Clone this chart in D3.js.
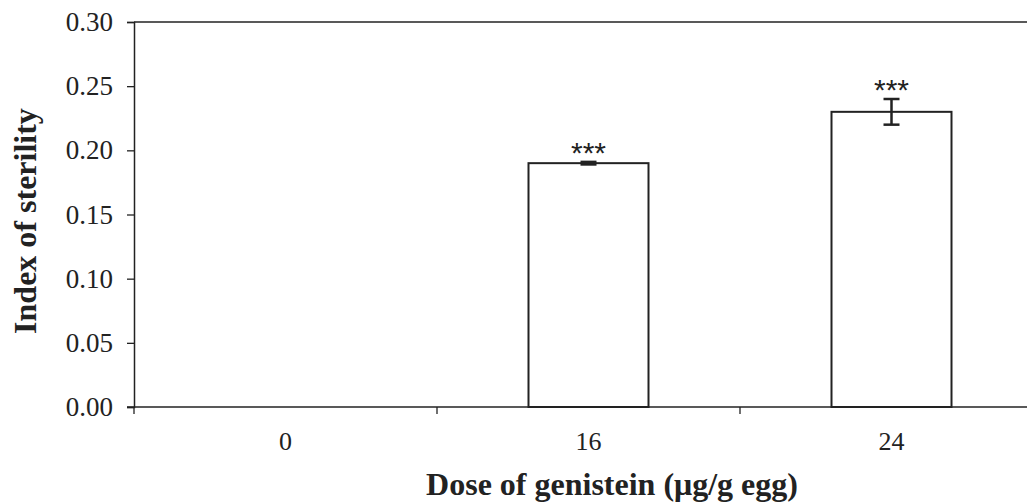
<!DOCTYPE html>
<html>
<head>
<meta charset="utf-8">
<script src="https://cdn.jsdelivr.net/npm/d3@7"></script>
<style>
  body { margin: 0; background: #fff; }
  svg text { font-family: "Liberation Serif", "Times New Roman", serif; fill: #222; }
</style>
</head>
<body>
<script>
// chart values
var doses = ["0", "16", "24"];
var sterility = [0, 0.19, 0.23];
var errors = [0, 0.001, 0.01];
var stars = ["", "***", "***"];
var yTicks = [0, 0.05, 0.10, 0.15, 0.20, 0.25, 0.30];

var width = 1027, height = 504;
var plotLeft = 134, plotTop = 22, plotBottom = 407;
var bandW = 303;

var svg = d3.select("body").append("svg")
    .attr("width", width)
    .attr("height", height);

var x = d3.scaleBand()
    .domain(doses)
    .range([plotLeft, plotLeft + bandW * doses.length])
    .paddingInner(0)
    .paddingOuter(0);

var y = d3.scaleLinear()
    .domain([0, 0.30])
    .range([plotBottom, plotTop]);

// top border line
svg.append("line")
    .attr("x1", plotLeft).attr("x2", width)
    .attr("y1", y(0.30)).attr("y2", y(0.30))
    .attr("stroke", "#222").attr("stroke-width", 1.5);

// y axis
var yAxis = svg.append("g")
    .attr("transform", "translate(" + plotLeft + ",0)")
    .call(d3.axisLeft(y).tickValues(yTicks).tickFormat(d3.format(".2f")).tickSizeOuter(0).tickSize(7).tickPadding(14));
yAxis.select(".domain").attr("stroke", "#222").attr("stroke-width", 1.5);
yAxis.selectAll(".tick line").attr("stroke", "#222").attr("stroke-width", 1.3);
yAxis.selectAll("text").style("font-size", "27px").attr("fill", "#222");

// x axis line and boundary ticks
svg.append("line")
    .attr("x1", plotLeft - 7).attr("x2", width)
    .attr("y1", plotBottom).attr("y2", plotBottom)
    .attr("stroke", "#222").attr("stroke-width", 1.5);

var bounds = doses.map(function(d) { return x(d); });
svg.append("g").selectAll("line")
    .data(bounds)
    .enter().append("line")
    .attr("x1", function(d) { return d; })
    .attr("x2", function(d) { return d; })
    .attr("y1", plotBottom).attr("y2", plotBottom + 7)
    .attr("stroke", "#222").attr("stroke-width", 1.3);

svg.append("g").selectAll("text")
    .data(doses)
    .enter().append("text")
    .attr("x", function(d) { return x(d) + x.bandwidth() / 2; })
    .attr("y", 450)
    .attr("text-anchor", "middle")
    .style("font-size", "26px")
    .text(function(d) { return d; });

// bars
var barW = 120;
var data = doses.map(function(d, i) { return {dose: d, v: sterility[i], e: errors[i], s: stars[i]}; });

svg.append("g").selectAll("rect")
    .data(data.filter(function(d) { return d.v > 0; }))
    .enter().append("rect")
    .attr("x", function(d) { return x(d.dose) + x.bandwidth() / 2 - barW / 2; })
    .attr("y", function(d) { return y(d.v); })
    .attr("width", barW)
    .attr("height", function(d) { return y(0) - y(d.v); })
    .attr("fill", "#fff")
    .attr("stroke", "#222")
    .attr("stroke-width", 2);

// error bars
var eb = svg.append("g").selectAll("g")
    .data(data.filter(function(d) { return d.v > 0; }))
    .enter().append("g")
    .attr("stroke", "#222")
    .attr("stroke-width", 2.5);

eb.append("line")
    .attr("x1", function(d) { return x(d.dose) + x.bandwidth() / 2; })
    .attr("x2", function(d) { return x(d.dose) + x.bandwidth() / 2; })
    .attr("y1", function(d) { return y(d.v + d.e); })
    .attr("y2", function(d) { return y(d.v - d.e); });

eb.selectAll("line.cap")
    .data(function(d) { return [{d: d, v: d.v + d.e}, {d: d, v: d.v - d.e}]; })
    .enter().append("line")
    .attr("class", "cap")
    .attr("x1", function(c) { return x(c.d.dose) + x.bandwidth() / 2 - 8; })
    .attr("x2", function(c) { return x(c.d.dose) + x.bandwidth() / 2 + 8; })
    .attr("y1", function(c) { return y(c.v); })
    .attr("y2", function(c) { return y(c.v); });

// significance stars
svg.append("g").selectAll("text")
    .data(data.filter(function(d) { return d.s; }))
    .enter().append("text")
    .attr("x", function(d) { return x(d.dose) + x.bandwidth() / 2; })
    .attr("y", function(d) { return y(d.v + d.e) + 1; })
    .attr("text-anchor", "middle")
    .style("font-size", "30px")
    .style("font-family", "'Liberation Sans', Arial, sans-serif")
    .attr("fill", "#333")
    .text(function(d) { return d.s; });

// axis titles
svg.append("text")
    .attr("transform", "translate(36,221) rotate(-90)")
    .attr("text-anchor", "middle")
    .style("font-size", "32px")
    .style("font-weight", "bold")
    .text("Index of sterility");

svg.append("text")
    .attr("x", 612)
    .attr("y", 495)
    .attr("text-anchor", "middle")
    .style("font-size", "32px")
    .style("font-weight", "bold")
    .text("Dose of genistein (μg/g egg)");
</script>
</body>
</html>
